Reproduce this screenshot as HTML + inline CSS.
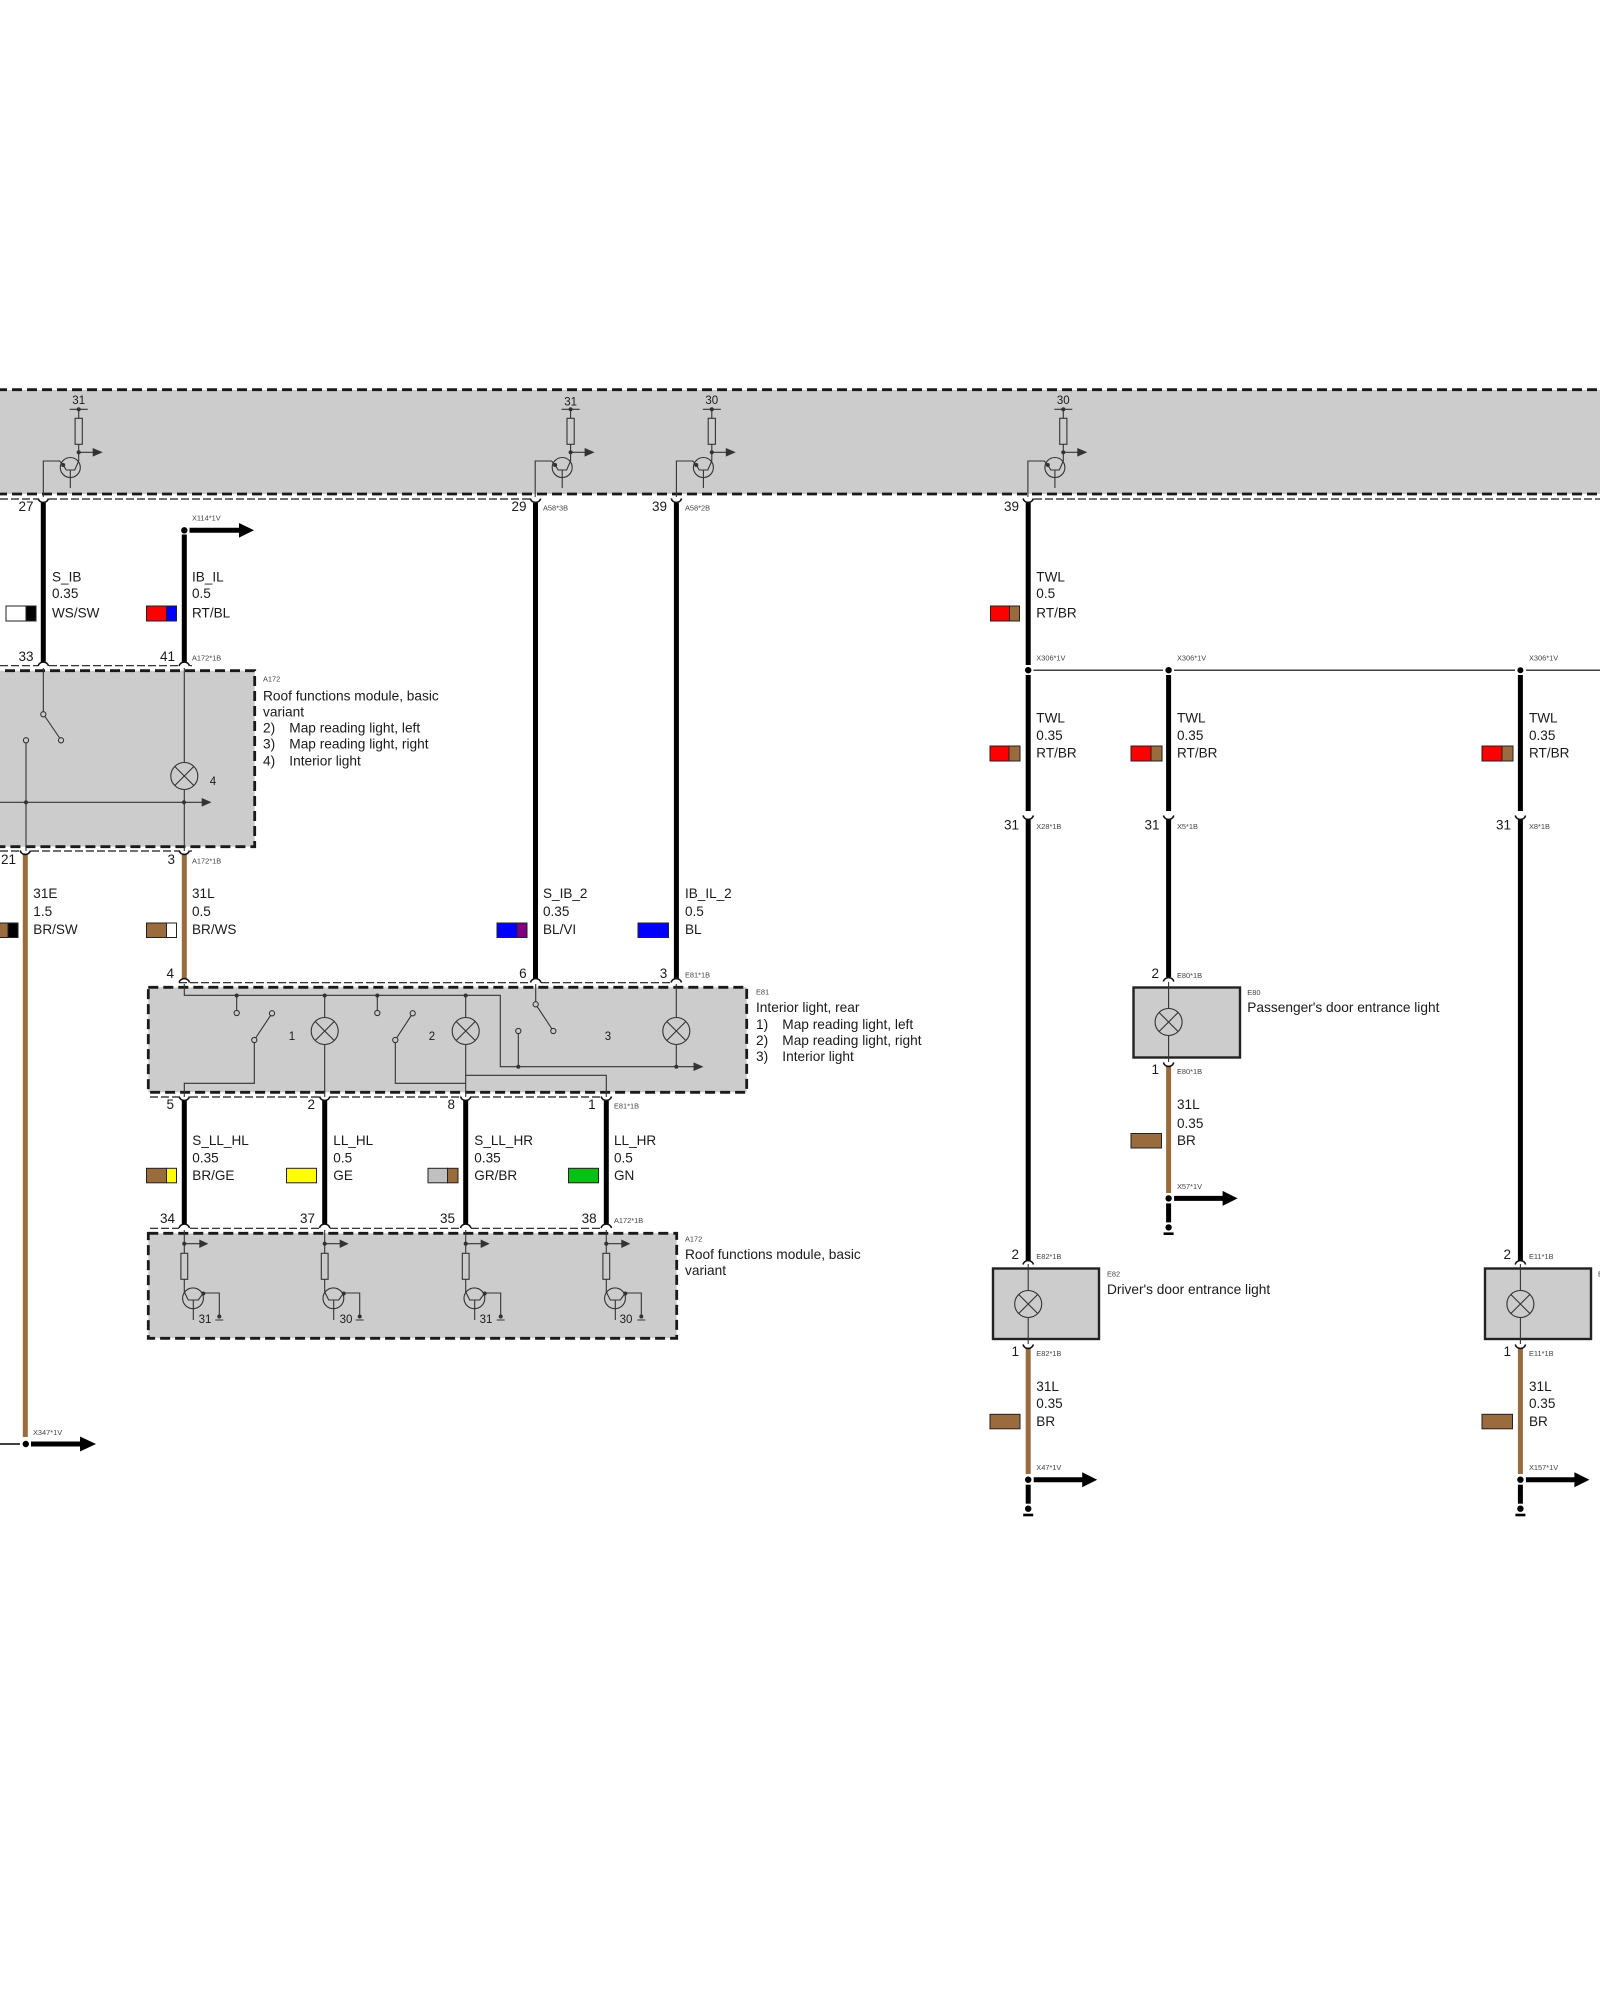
<!DOCTYPE html>
<html><head><meta charset="utf-8"><title>Wiring diagram</title>
<style>
html,body{margin:0;padding:0;background:#fff}
svg{display:block}
text{font-family:"Liberation Sans",sans-serif;fill:#1a1a1a}
.t{font-size:13.55px}
.d{font-size:13.7px}
.p{font-size:13.5px;text-anchor:end}
.n{font-size:11.5px;text-anchor:middle}
.s{font-size:7.4px;fill:#444}
.th{stroke:#1a1a1a;stroke-width:2.8;stroke-dasharray:10 5;fill:none}
.tn{stroke:#1a1a1a;stroke-width:1.2;stroke-dasharray:8 3;fill:none}
.w{stroke:#000;stroke-width:5;fill:none}
.b{stroke:#9a6b3c;stroke-width:5;fill:none}
.l{stroke:#333;stroke-width:1.1;fill:none}
.c{stroke:#111;stroke-width:1.6;fill:none}
.sw{stroke:#222;stroke-width:1}
.o{stroke:#333;stroke-width:1.1;fill:#ccc}
</style></head><body>
<svg width="1600" height="2000" viewBox="0 0 1600 2000" xmlns="http://www.w3.org/2000/svg">
<defs>
<g id="capU"><path class="c" d="M-5.2,-3.5 A5.4,5.4 0 0 0 5.2,-3.5"/></g>
<g id="capN"><path class="c" d="M-5.2,3.5 A5.4,5.4 0 0 1 5.2,3.5"/></g>
<g id="lamp"><circle class="o" r="13.5"/><path class="l" d="M-9.5,-9.5L9.5,9.5M-9.5,9.5L9.5,-9.5"/></g>
<g id="open"><circle class="o" r="2.6"/></g>
<g id="tt">
<path class="l" d="M-35.4,497V461H-19L-15.5,465L-12.5,470H-4L0,461"/>
<path class="l" d="M-9,409.3H9M0,409.3V418.3M0,444.3V461M-8.4,470V488"/>
<rect class="o" x="-3.6" y="418.3" width="7.2" height="26"/>
<circle cx="0" cy="409.3" r="2.1" fill="#333"/>
<circle cx="0" cy="452.3" r="2.1" fill="#333"/>
<path class="l" d="M0,452.3H15"/>
<polygon points="14,448 24,452.3 14,456.6" fill="#333"/>
<circle class="l" cx="-8.4" cy="467.5" r="10"/>
<circle cx="-15.5" cy="465" r="2" fill="#333"/>
</g>
<g id="tb">
<path class="l" d="M0,1230V1253.3M0,1279.3V1292L4,1300H14L19,1293H35V1317M9,1300V1320M31,1320H39"/>
<rect class="o" x="-3.4" y="1253.3" width="6.8" height="26"/>
<circle cx="0" cy="1243.7" r="2.1" fill="#333"/>
<path class="l" d="M0,1243.7H16"/>
<polygon points="15,1239.5 24,1243.7 15,1248" fill="#333"/>
<circle class="l" cx="8.7" cy="1298.3" r="10.4"/>
<circle cx="19" cy="1293.5" r="2" fill="#333"/>
<circle cx="35" cy="1316.5" r="2" fill="#333"/>
</g>
<g id="end">
<circle cy="0" r="3.2" fill="#000"/>
<path class="w" d="M0,5V24"/>
<circle cy="29" r="3.2" fill="#000"/>
<rect x="-5" y="34" width="10" height="2.6" fill="#000"/>
<path d="M5.5,0H55" stroke="#000" stroke-width="5"/>
<polygon points="54,-7.5 69,0 54,7.5" fill="#000"/>
</g>
</defs>

<!-- top band -->
<rect x="0" y="390" width="1600" height="104" fill="#ccc"/>
<path class="th" d="M-3,389.7H1600M-3,494H1600"/>
<path class="tn" d="M0,499H38M49,499H531M1034,499H1600"/>
<use href="#tt" x="78.7"/><use href="#tt" x="570.6"/><use href="#tt" x="711.8"/><use href="#tt" x="1063.3"/>
<text class="n" x="78.7" y="404">31</text><text class="n" x="570.6" y="405.5">31</text><text class="n" x="711.8" y="404">30</text><text class="n" x="1063.3" y="404">30</text>

<!-- A172 top module -->
<rect x="-10" y="670.7" width="264.7" height="176" class="th" style="fill:#ccc"/>
<path class="tn" d="M0,665.7H38M49,665.7H179M190,665.7H192"/>
<path class="tn" d="M0,851H20M31,851H179M190,851H192"/>
<path class="l" d="M43.3,668V714L61,740M26,743V851M184.3,668V762.5M184.3,789.5V851M0,802.3H203"/>
<polygon points="201.7,798 211.5,802.3 201.7,806.6" fill="#333"/>
<use href="#open" x="43.3" y="714.3"/><use href="#open" x="61" y="740.3"/><use href="#open" x="26" y="740.3"/>
<use href="#lamp" x="184.3" y="776"/>
<circle cx="26" cy="802.3" r="2.1" fill="#333"/><circle cx="184" cy="802.3" r="2.1" fill="#333"/>
<text class="n" x="213" y="785">4</text>

<!-- E81 module -->
<rect x="148.3" y="987.3" width="598.4" height="105" class="th" style="fill:#ccc"/>
<path class="tn" d="M179,982.7H189M190,982.7H530M541,982.7H671"/>
<path class="tn" d="M150,1097H179M190,1097H319M330,1097H460M471,1097H601"/>
<path class="l" d="M184.3,984V995.3H500.3V1066.7H695"/>
<polygon points="693.5,1062.4 703.5,1066.7 693.5,1071" fill="#333"/>
<path class="l" d="M236.7,995.3V1010.5M377.3,995.3V1010.5M324.7,995.3V1017.5M465.7,995.3V1017.5M324.7,1044.5V1097M465.7,1044.5V1097"/>
<path class="l" d="M272,1013.3L254.3,1040V1083.3H184.3V1097M412.7,1013.3L395.3,1040V1083.3H465.7"/>
<path class="l" d="M465.7,1075.3H606.3V1097"/>
<path class="l" d="M535.7,984V1004.3L553.3,1031M518.3,1033.5V1066.7M676.3,984V1017.5M676.3,1044.5V1066.7"/>
<use href="#open" x="236.7" y="1013"/><use href="#open" x="377.3" y="1013"/>
<use href="#open" x="272" y="1013.3"/><use href="#open" x="254.3" y="1040"/>
<use href="#open" x="412.7" y="1013.3"/><use href="#open" x="395.3" y="1040"/>
<use href="#open" x="535.7" y="1004.3"/><use href="#open" x="553.3" y="1031"/><use href="#open" x="518.3" y="1031"/>
<use href="#lamp" x="324.7" y="1031"/><use href="#lamp" x="465.7" y="1031"/><use href="#lamp" x="676.3" y="1031"/>
<g fill="#333"><circle cx="236.7" cy="995.5" r="2"/><circle cx="324.7" cy="995.5" r="2"/><circle cx="377.3" cy="995.5" r="2"/><circle cx="465.7" cy="995.5" r="2"/><circle cx="518.3" cy="1066.7" r="2"/><circle cx="676.3" cy="1066.7" r="2"/></g>
<text class="n" x="292" y="1040">1</text><text class="n" x="432" y="1040">2</text><text class="n" x="608" y="1040">3</text>

<!-- lower module -->
<rect x="148.3" y="1233.3" width="528.4" height="105" class="th" style="fill:#ccc"/>
<path class="tn" d="M150,1228.3H179M190,1228.3H319M330,1228.3H460M471,1228.3H601"/>
<use href="#tb" x="184.3"/><use href="#tb" x="324.7"/><use href="#tb" x="465.7"/><use href="#tb" x="606.3"/>
<text class="n" x="205" y="1323">31</text><text class="n" x="346" y="1323">30</text><text class="n" x="486" y="1323">31</text><text class="n" x="626" y="1323">30</text>

<!-- wires -->
<path class="w" d="M43.3,503V662M184.3,534.5V662M535.5,503V979M676.4,503V979"/>
<path class="w" d="M1028.2,503V665M1028.2,675V811M1028.2,819V1261M1168.6,675V811M1168.6,819V977M1520.4,675V811M1520.4,819V1261"/>
<path class="w" d="M184.3,1100V1224M324.7,1100V1224M465.7,1100V1224M606.3,1100V1224"/>
<path class="b" d="M184.3,854V979M25.3,854V1437M1168.6,1066V1193M1028.2,1348V1474M1520.4,1348V1474"/>

<!-- caps -->
<use href="#capU" x="43.3" y="502"/><use href="#capU" x="535.5" y="502"/><use href="#capU" x="676.4" y="502"/><use href="#capU" x="1028.2" y="502"/>
<use href="#capN" x="43.3" y="662.5"/><use href="#capN" x="184.3" y="662.5"/>
<use href="#capU" x="25.3" y="854"/><use href="#capU" x="184.3" y="854"/>
<use href="#capN" x="184.3" y="979"/><use href="#capN" x="535.7" y="979"/><use href="#capN" x="676.3" y="979"/>
<use href="#capU" x="184.3" y="1100"/><use href="#capU" x="324.7" y="1100"/><use href="#capU" x="465.7" y="1100"/><use href="#capU" x="606.3" y="1100"/>
<use href="#capN" x="184.3" y="1224.5"/><use href="#capN" x="324.7" y="1224.5"/><use href="#capN" x="465.7" y="1224.5"/><use href="#capN" x="606.3" y="1224.5"/>
<use href="#capU" x="1028.2" y="819"/><use href="#capU" x="1168.6" y="819"/><use href="#capU" x="1520.4" y="819"/>

<!-- X114 arrow -->
<circle cx="184.3" cy="530.3" r="3.2" fill="#000"/>
<path d="M189.5,530.3H240" stroke="#000" stroke-width="5"/><polygon points="239,523 254,530.3 239,537.6" fill="#000"/>

<!-- X347 arrow -->
<path d="M0,1444H20" stroke="#000" stroke-width="1.4"/>
<circle cx="25.8" cy="1444" r="3.2" fill="#000"/>
<path d="M31,1444H81" stroke="#000" stroke-width="5"/><polygon points="80,1436.5 96,1444 80,1451.5" fill="#000"/>

<!-- splice line -->
<path d="M1033.5,670.2H1163M1174,670.2H1515M1526,670.2H1600" stroke="#000" stroke-width="1.2"/>
<g fill="#000"><circle cx="1028.2" cy="670.2" r="3.2"/><circle cx="1168.6" cy="670.2" r="3.2"/><circle cx="1520.4" cy="670.2" r="3"/></g>

<!-- E80 -->
<rect x="1133.5" y="987.5" width="106.5" height="70" fill="#ccc" stroke="#222" stroke-width="2.4"/>
<path class="l" d="M1168.6,982V1062"/><use href="#lamp" x="1168.6" y="1022"/>
<use href="#capN" x="1168.6" y="978"/><use href="#capU" x="1168.6" y="1066"/>
<use href="#end" x="1168.6" y="1198.4"/>

<!-- E82 -->
<rect x="993" y="1268.5" width="106" height="70.5" fill="#ccc" stroke="#222" stroke-width="2.4"/>
<path class="l" d="M1028.2,1264V1344"/><use href="#lamp" x="1028.2" y="1304"/>
<use href="#capN" x="1028.2" y="1261"/><use href="#capU" x="1028.2" y="1348"/>
<use href="#end" x="1028.2" y="1479.7"/>

<!-- E11 -->
<rect x="1485" y="1268.5" width="106" height="70.5" fill="#ccc" stroke="#222" stroke-width="2.4"/>
<path class="l" d="M1520.4,1264V1344"/><use href="#lamp" x="1520.4" y="1304"/>
<use href="#capN" x="1520.4" y="1261"/><use href="#capU" x="1520.4" y="1348"/>
<use href="#end" x="1520.4" y="1479.7"/>

<!-- swatches -->
<g class="sw">
<rect x="6" y="606" width="20" height="15" fill="#fff"/><rect x="26" y="606" width="10" height="15" fill="#000"/>
<rect x="146.5" y="606" width="20" height="15" fill="#f00"/><rect x="166.5" y="606" width="10" height="15" fill="#00f"/>
<rect x="990.5" y="606" width="19" height="15" fill="#f00"/><rect x="1009.5" y="606" width="10" height="15" fill="#9a6b3c"/>
<rect x="990" y="746" width="19" height="15" fill="#f00"/><rect x="1009" y="746" width="11" height="15" fill="#9a6b3c"/>
<rect x="1131" y="746" width="20" height="15" fill="#f00"/><rect x="1151" y="746" width="11" height="15" fill="#9a6b3c"/>
<rect x="1482" y="746" width="20" height="15" fill="#f00"/><rect x="1502" y="746" width="11" height="15" fill="#9a6b3c"/>
<rect x="-12" y="923" width="20" height="14.5" fill="#9a6b3c"/><rect x="8" y="923" width="10" height="14.5" fill="#000"/>
<rect x="146.5" y="923" width="20" height="14.5" fill="#9a6b3c"/><rect x="166.5" y="923" width="10" height="14.5" fill="#fff"/>
<rect x="497" y="923" width="20" height="14.5" fill="#00f"/><rect x="517" y="923" width="10" height="14.5" fill="#800080"/>
<rect x="638" y="923" width="30.5" height="14.5" fill="#00f"/>
<rect x="146.5" y="1168.3" width="20" height="14.5" fill="#9a6b3c"/><rect x="166.5" y="1168.3" width="10" height="14.5" fill="#ff0"/>
<rect x="286.5" y="1168.3" width="30" height="14.5" fill="#ff0"/>
<rect x="428" y="1168.3" width="19.5" height="14.5" fill="#c0c0c0"/><rect x="447.5" y="1168.3" width="10.5" height="14.5" fill="#9a6b3c"/>
<rect x="568.5" y="1168.3" width="30" height="14.5" fill="#0bbf14"/>
<rect x="1131" y="1133.5" width="30.5" height="14.5" fill="#9a6b3c"/>
<rect x="990" y="1414.3" width="30" height="14.5" fill="#9a6b3c"/>
<rect x="1482" y="1414.3" width="30.5" height="14.5" fill="#9a6b3c"/>
</g>

<!-- pin numbers -->
<text class="p" x="33.5" y="511">27</text><text class="p" x="33.5" y="661">33</text><text class="p" x="175" y="661">41</text>
<text class="p" x="16" y="864">21</text><text class="p" x="175" y="864">3</text>
<text class="p" x="526.5" y="511">29</text><text class="p" x="667" y="511">39</text><text class="p" x="1019" y="511">39</text>
<text class="p" x="174" y="978">4</text><text class="p" x="526.7" y="978">6</text><text class="p" x="667.3" y="978">3</text>
<text class="p" x="174" y="1109">5</text><text class="p" x="315" y="1109">2</text><text class="p" x="455" y="1109">8</text><text class="p" x="595.7" y="1109">1</text>
<text class="p" x="175" y="1223">34</text><text class="p" x="315" y="1223">37</text><text class="p" x="455" y="1223">35</text><text class="p" x="596.7" y="1223">38</text>
<text class="p" x="1019" y="829.5">31</text><text class="p" x="1159.5" y="829.5">31</text><text class="p" x="1511" y="829.5">31</text>
<text class="p" x="1159" y="978">2</text><text class="p" x="1159" y="1074">1</text>
<text class="p" x="1019" y="1259">2</text><text class="p" x="1019" y="1356">1</text>
<text class="p" x="1511" y="1259">2</text><text class="p" x="1511" y="1356">1</text>

<!-- small labels -->
<text class="s" x="192" y="520.7">X114*1V</text>
<text class="s" x="192" y="660.7">A172*1B</text>
<text class="s" x="263" y="681.7">A172</text>
<text class="s" x="192" y="863.3">A172*1B</text>
<text class="s" x="543" y="510.7">A58*3B</text>
<text class="s" x="685" y="510.7">A58*2B</text>
<text class="s" x="1036.3" y="660.7">X306*1V</text><text class="s" x="1177" y="660.7">X306*1V</text><text class="s" x="1529" y="660.7">X306*1V</text>
<text class="s" x="1036.3" y="829">X28*1B</text><text class="s" x="1177" y="829">X5*1B</text><text class="s" x="1529" y="829">X8*1B</text>
<text class="s" x="685" y="977.7">E81*1B</text><text class="s" x="756" y="994.7">E81</text>
<text class="s" x="614" y="1108.7">E81*1B</text>
<text class="s" x="614" y="1223">A172*1B</text><text class="s" x="685" y="1241.7">A172</text>
<text class="s" x="1177" y="978">E80*1B</text><text class="s" x="1177" y="1074">E80*1B</text><text class="s" x="1247.3" y="995">E80</text><text class="s" x="1177" y="1189">X57*1V</text>
<text class="s" x="1036.3" y="1259">E82*1B</text><text class="s" x="1036.3" y="1356">E82*1B</text><text class="s" x="1107" y="1276.7">E82</text><text class="s" x="1036.3" y="1470">X47*1V</text>
<text class="s" x="1529" y="1259">E11*1B</text><text class="s" x="1529" y="1356">E11*1B</text><text class="s" x="1598" y="1276.7">E11</text><text class="s" x="1529" y="1470">X157*1V</text>
<text class="s" x="33" y="1435">X347*1V</text>

<!-- wire labels -->
<text class="t" x="52" y="581.7">S_IB</text><text class="t" x="52" y="598">0.35</text><text class="t" x="52" y="617.5">WS/SW</text>
<text class="t" x="192" y="581.7">IB_IL</text><text class="t" x="192" y="598">0.5</text><text class="t" x="192" y="617.5">RT/BL</text>
<text class="t" x="1036.3" y="581.7">TWL</text><text class="t" x="1036.3" y="598">0.5</text><text class="t" x="1036.3" y="617.5">RT/BR</text>
<text class="t" x="1036.3" y="722.7">TWL</text><text class="t" x="1036.3" y="740">0.35</text><text class="t" x="1036.3" y="757.5">RT/BR</text>
<text class="t" x="1177" y="722.7">TWL</text><text class="t" x="1177" y="740">0.35</text><text class="t" x="1177" y="757.5">RT/BR</text>
<text class="t" x="1529" y="722.7">TWL</text><text class="t" x="1529" y="740">0.35</text><text class="t" x="1529" y="757.5">RT/BR</text>
<text class="t" x="33.3" y="898">31E</text><text class="t" x="33.3" y="916">1.5</text><text class="t" x="33.3" y="934">BR/SW</text>
<text class="t" x="192" y="898">31L</text><text class="t" x="192" y="916">0.5</text><text class="t" x="192" y="934">BR/WS</text>
<text class="t" x="543" y="898">S_IB_2</text><text class="t" x="543" y="916">0.35</text><text class="t" x="543" y="934">BL/VI</text>
<text class="t" x="685" y="898">IB_IL_2</text><text class="t" x="685" y="916">0.5</text><text class="t" x="685" y="934">BL</text>
<text class="t" x="192.3" y="1145">S_LL_HL</text><text class="t" x="192.3" y="1162.7">0.35</text><text class="t" x="192.3" y="1180">BR/GE</text>
<text class="t" x="333.3" y="1145">LL_HL</text><text class="t" x="333.3" y="1162.7">0.5</text><text class="t" x="333.3" y="1180">GE</text>
<text class="t" x="474.3" y="1145">S_LL_HR</text><text class="t" x="474.3" y="1162.7">0.35</text><text class="t" x="474.3" y="1180">GR/BR</text>
<text class="t" x="614" y="1145">LL_HR</text><text class="t" x="614" y="1162.7">0.5</text><text class="t" x="614" y="1180">GN</text>
<text class="t" x="1177" y="1109">31L</text><text class="t" x="1177" y="1128">0.35</text><text class="t" x="1177" y="1145">BR</text>
<text class="t" x="1036.3" y="1391">31L</text><text class="t" x="1036.3" y="1408">0.35</text><text class="t" x="1036.3" y="1426">BR</text>
<text class="t" x="1529" y="1391">31L</text><text class="t" x="1529" y="1408">0.35</text><text class="t" x="1529" y="1426">BR</text>

<!-- component descriptions -->
<text class="d" x="263" y="700.7">Roof functions module, basic</text>
<text class="d" x="263" y="716.7">variant</text>
<text class="d" x="263" y="732.7">2)</text><text class="d" x="289.3" y="732.7">Map reading light, left</text>
<text class="d" x="263" y="748.7">3)</text><text class="d" x="289.3" y="748.7">Map reading light, right</text>
<text class="d" x="263" y="765.7">4)</text><text class="d" x="289.3" y="765.7">Interior light</text>
<text class="d" x="756" y="1012">Interior light, rear</text>
<text class="d" x="756" y="1029">1)</text><text class="d" x="782.3" y="1029">Map reading light, left</text>
<text class="d" x="756" y="1045">2)</text><text class="d" x="782.3" y="1045">Map reading light, right</text>
<text class="d" x="756" y="1061">3)</text><text class="d" x="782.3" y="1061">Interior light</text>
<text class="d" x="685" y="1259">Roof functions module, basic</text>
<text class="d" x="685" y="1275">variant</text>
<text class="d" x="1247.3" y="1012">Passenger's door entrance light</text>
<text class="d" x="1107" y="1294">Driver's door entrance light</text>
</svg>
</body></html>
